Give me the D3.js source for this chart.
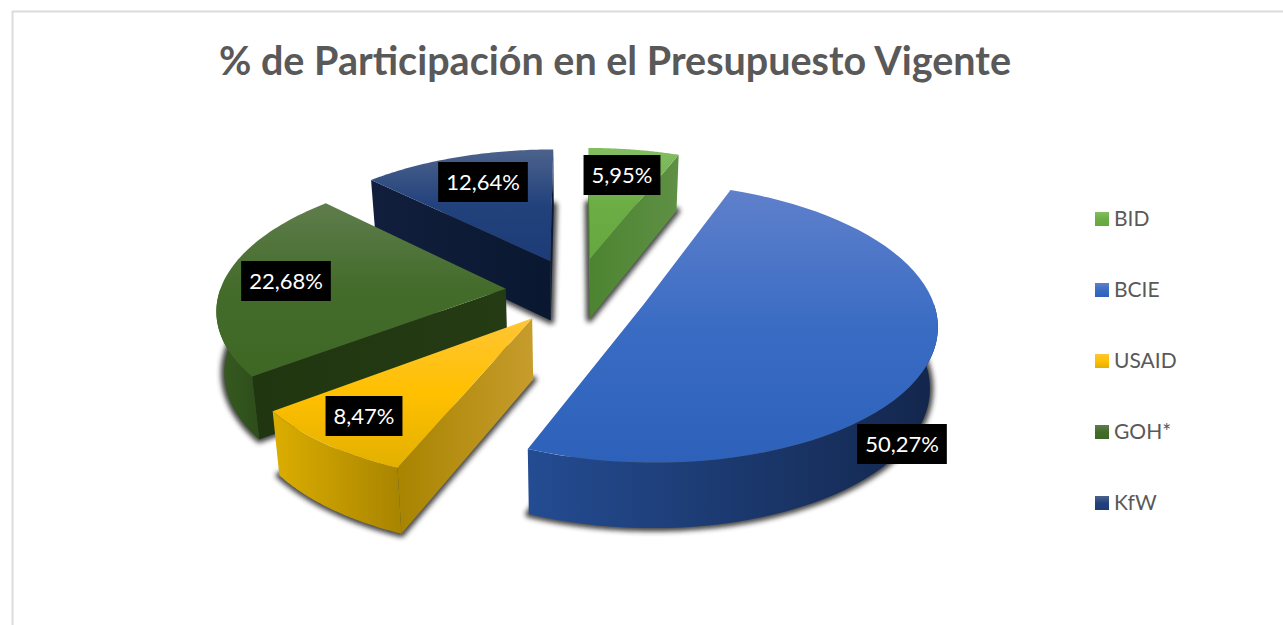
<!DOCTYPE html>
<html lang="es">
<head>
<meta charset="utf-8">
<title>% de Participación en el Presupuesto Vigente</title>
<script src="https://d3js.org/d3.v7.min.js"></script>
<style>
    html, body { margin: 0; padding: 0; background: #fff; overflow: hidden; }
    text { font-family: Lato, "Open Sans", sans-serif; }
</style>
</head>
<body>
<div id="chart-area"></div>
<script>
// Datos
var categorias = ["BID", "BCIE", "USAID", "GOH*", "KfW"];
var porcentajes = [5.95, 50.27, 8.47, 22.68, 12.64];
var titulo = "% de Participación en el Presupuesto Vigente";

// Colores: cara superior (arriba, medio, abajo) y laterales (izquierda, derecha)
var coloresSup = [
    ["#83bd62", "#6cae45", "#66a83f"],
    ["#5f80cb", "#3a6cc4", "#2d61ba"],
    ["#ffc535", "#ffc000", "#e2b000"],
    ["#5f7d4c", "#436b2a", "#3f6724"],
    ["#4c628c", "#22427c", "#1c3b78"]
];
var coloresArco = [
    ["#4c8430", "#5c8e42"],
    ["#244c92", "#13264c"],
    ["#dcae00", "#a88400"],
    ["#385c21", "#2d4d1a"],
    ["#101f3e", "#0a1730"]
];
var coloresCorte = [
    ["#4c8430", "#5f9045"],
    ["#244c92", "#13264c"],
    ["#a88400", "#c79c2c"],
    ["#203610", "#253b14"],
    ["#111f3d", "#0a1730"]
];

// Posicion de las etiquetas (colocadas a mano en el original)
var posEtiquetas = [[622, 175], [902, 444], [364, 416], [286, 281], [483, 182]];

// Parametros de la vista 3D
var width = 1283, height = 625;
var explosion = 0.25, perspectiva = 0.134, grosor = 60.5, reduccionBase = 0.978;
var xEsc = d3.scaleLinear().domain([-1, 1]).range([577 - 286, 577 + 286]);
var yEsc = d3.scaleLinear().domain([-1, 1]).range([291 - 134, 291 + 134]);
var centroX = xEsc(0);

var svg = d3.select("#chart-area").append("svg")
    .attr("width", width)
    .attr("height", height);

// Borde del area del grafico
svg.append("path")
    .attr("d", d3.line()([[12.5, height], [12.5, 11.5], [width, 11.5]]))
    .attr("fill", "none")
    .attr("stroke", "#dcdcdc")
    .attr("stroke-width", 2);

// Titulo
svg.append("text")
    .attr("x", 615)
    .attr("y", 75)
    .attr("text-anchor", "middle")
    .attr("font-size", 39.5)
    .attr("font-weight", 700)
    .attr("fill", "#595959")
    .text(titulo);

var defs = svg.append("defs");

defs.append("filter")
    .attr("id", "sombra")
    .attr("x", "-20%").attr("y", "-20%")
    .attr("width", "140%").attr("height", "140%")
    .append("feGaussianBlur")
    .attr("stdDeviation", 2.4);

function gradVertical(id, colores) {
    var g = defs.append("linearGradient").attr("id", id)
        .attr("x1", 0).attr("y1", 0).attr("x2", 0).attr("y2", 1);
    g.selectAll("stop").data(colores).enter().append("stop")
        .attr("offset", function(d, i) { return i / (colores.length - 1); })
        .attr("stop-color", function(d) { return d; });
}

function gradHorizontal(id, colores) {
    var g = defs.append("linearGradient").attr("id", id)
        .attr("x1", 0).attr("y1", 0).attr("x2", 1).attr("y2", 0);
    g.selectAll("stop").data(colores).enter().append("stop")
        .attr("offset", function(d, i) { return i / (colores.length - 1); })
        .attr("stop-color", function(d) { return d; });
}

categorias.forEach(function(c, i) {
    gradVertical("sup" + i, coloresSup[i]);
    gradHorizontal("arco" + i, coloresArco[i]);
    gradHorizontal("corte" + i, coloresCorte[i]);
});

// Proyeccion de un punto del plano de la torta a la pantalla
function proyectar(u, v) {
    var p = 1 / (1 - perspectiva * v);
    return [xEsc(u * p), yEsc(v * p)];
}

function proyectarBase(u, v) {
    var p = 1 / (1 - perspectiva * v);
    var q = proyectar(u, v);
    return [centroX + (q[0] - centroX) * reduccionBase, q[1] + grosor * Math.sqrt(p)];
}

var pie = d3.pie().sort(null).value(function(d) { return d; });
var rebanadas = pie(porcentajes).map(function(d, i) {
    var medio = (d.startAngle + d.endAngle) / 2;
    return {
        i: i,
        a0: d.startAngle,
        a1: d.endAngle,
        medio: medio,
        ox: explosion * Math.sin(medio),
        oy: -explosion * Math.cos(medio)
    };
});

function borde(r, a) {
    return [r.ox + Math.sin(a), r.oy - Math.cos(a)];
}

function puntosArco(r, a0, a1, fn) {
    return d3.range(0, 61).map(function(k) {
        var a = a0 + (a1 - a0) * k / 60;
        var b = borde(r, a);
        return fn(b[0], b[1]);
    });
}

var linea = d3.line();
function cerrar(puntos) { return linea(puntos) + "Z"; }

// Caras de corte: solo se dibuja la que mira hacia el observador
function caraCorteVisible(r, a) {
    var ap = proyectar(r.ox, r.oy);
    var b = borde(r, a);
    var q = proyectar(b[0], b[1]);
    var bm = borde(r, r.medio);
    var m = proyectar(bm[0], bm[1]);
    var ex = q[0] - ap[0], ey = q[1] - ap[1];
    var interior = ex * (m[1] - ap[1]) - ey * (m[0] - ap[0]);
    return interior * ex < 0;
}

function dibujarCorte(g, r, a) {
    if (!caraCorteVisible(r, a)) return;
    var b = borde(r, a);
    g.append("path")
        .attr("d", cerrar([
            proyectar(r.ox, r.oy), proyectar(b[0], b[1]),
            proyectarBase(b[0], b[1]), proyectarBase(r.ox, r.oy)
        ]))
        .attr("fill", "url(#corte" + r.i + ")");
}

// De atras hacia adelante
var orden = rebanadas.slice().sort(function(a, b) {
    return d3.ascending(a.oy, b.oy);
});

orden.forEach(function(r) {
    var g = svg.append("g").attr("class", "rebanada");

    // Sombra bajo la base
    var base = [proyectarBase(r.ox, r.oy)].concat(puntosArco(r, r.a0, r.a1, proyectarBase));
    g.append("path")
        .attr("d", cerrar(base))
        .attr("fill", "#333")
        .attr("stroke", "#333")
        .attr("stroke-width", 7)
        .attr("stroke-linejoin", "round")
        .attr("filter", "url(#sombra)")
        .attr("opacity", 0.9);

    // Caras de corte
    dibujarCorte(g, r, r.a0);
    dibujarCorte(g, r, r.a1);

    // Pared exterior, solo la parte frontal
    var ini = Math.max(r.a0, Math.PI / 2), fin = Math.min(r.a1, Math.PI * 3 / 2);
    if (fin > ini) {
        var arriba = puntosArco(r, ini, fin, proyectar);
        var abajo = puntosArco(r, ini, fin, proyectarBase).reverse();
        g.append("path")
            .attr("d", cerrar(arriba.concat(abajo)))
            .attr("fill", "url(#arco" + r.i + ")");
    }

    // Cara superior
    var sup = [proyectar(r.ox, r.oy)].concat(puntosArco(r, r.a0, r.a1, proyectar));
    g.append("path")
        .attr("d", cerrar(sup))
        .attr("fill", "url(#sup" + r.i + ")");
});

// Etiquetas con fondo negro
var formato = d3.formatLocale({ decimal: ",", thousands: ".", grouping: [3], currency: ["", ""] }).format(".2f");

var etiquetas = svg.selectAll(".etiqueta").data(porcentajes).enter().append("g")
    .attr("class", "etiqueta")
    .attr("transform", function(d, i) { return "translate(" + posEtiquetas[i] + ")"; });

etiquetas.append("text")
    .attr("text-anchor", "middle")
    .attr("dy", "0.36em")
    .attr("font-size", 22)
    .attr("fill", "#fff")
    .text(function(d) { return formato(d) + "%"; })
    .each(function() {
        var w = this.getComputedTextLength() + 16;
        d3.select(this.parentNode).insert("rect", "text")
            .attr("x", -w / 2)
            .attr("y", -20)
            .attr("width", w)
            .attr("height", 40)
            .attr("fill", "#000");
    });

// Leyenda
var yLeyenda = d3.scalePoint().domain(categorias).range([219, 503]);

var leyenda = svg.selectAll(".leyenda").data(categorias).enter().append("g")
    .attr("class", "leyenda")
    .attr("transform", function(d) { return "translate(1095," + yLeyenda(d) + ")"; });

leyenda.append("rect")
    .attr("y", -7)
    .attr("width", 14)
    .attr("height", 14)
    .attr("fill", function(d, i) { return "url(#sup" + i + ")"; });

leyenda.append("text")
    .attr("x", 19)
    .attr("y", -1)
    .attr("dy", "0.36em")
    .attr("font-size", 21)
    .attr("fill", "#595959")
    .text(function(d) { return d; });
</script>
</body>
</html>
